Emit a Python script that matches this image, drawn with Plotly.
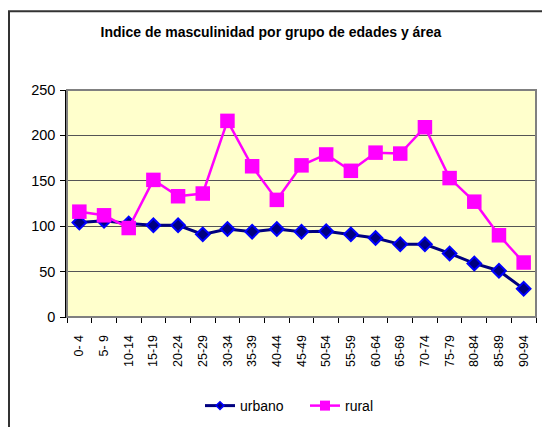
import plotly.graph_objects as go

categories = ["0- 4", "5- 9", "10-14", "15-19", "20-24", "25-29", "30-34", "35-39",
              "40-44", "45-49", "50-54", "55-59", "60-64", "65-69", "70-74", "75-79",
              "80-84", "85-89", "90-94"]
urbano = [104, 106, 103, 101, 101, 91, 97, 94, 97, 94, 94.5, 91, 87, 80, 80, 70, 59, 51, 31]
rural = [116, 112, 98, 151, 133, 136, 216, 166, 129, 167, 179, 161, 181, 180, 209, 153, 127, 90, 60]
y_ticks = [0, 50, 100, 150, 200, 250]

FONT = "Liberation Sans, Arial, sans-serif"
NAVY, BLUE, MAGENTA = "#000080", "#0000FF", "#FF00FF"

fig = go.Figure()
fig.add_trace(go.Scatter(
    x=categories, y=urbano, name="urbano", mode="lines+markers", showlegend=False,
    line=dict(color=NAVY, width=3),
    marker=dict(symbol="diamond", size=10.5, color=NAVY, line=dict(color=BLUE, width=2)),
))
fig.add_trace(go.Scatter(
    x=categories, y=rural, name="rural", mode="lines+markers", showlegend=False,
    line=dict(color=MAGENTA, width=2.5),
    marker=dict(symbol="square", size=14.5, color=MAGENTA, line=dict(width=0)),
))
# legend entries (smaller symbols as in the reference legend)
fig.add_trace(go.Scatter(
    x=[None], y=[None], name="urbano", mode="lines+markers", legend="legend",
    line=dict(color=NAVY, width=3),
    marker=dict(symbol="diamond", size=6, color=NAVY, line=dict(color=BLUE, width=1.5)),
))
fig.add_trace(go.Scatter(
    x=[None], y=[None], name="rural", mode="lines+markers", legend="legend2",
    line=dict(color=MAGENTA, width=2.5),
    marker=dict(symbol="square", size=10, color=MAGENTA, line=dict(width=0)),
))

leg_common = dict(orientation="h", yanchor="middle", y=-0.386, xanchor="left",
                  font=dict(family=FONT, size=14), bgcolor="rgba(0,0,0,0)")

fig.update_layout(
    width=542, height=427,
    margin=dict(l=67, r=6, t=90, b=109),
    paper_bgcolor="white", plot_bgcolor="#FFFFCC",
    font=dict(family=FONT, size=12, color="black"),
    title=dict(text="<b>Indice de masculinidad por grupo de edades y área</b>",
               x=0.5, xanchor="center", xref="container", y=1 - 32 / 427, yanchor="middle",
               font=dict(family=FONT, size=14, color="black")),
    showlegend=True,
    legend=dict(x=(200 - 67) / 469, **leg_common),
    legend2=dict(x=(305 - 67) / 469, **leg_common),
    xaxis=dict(type="category", tickangle=-90, ticks="outside", ticklen=5, tickcolor="black",
               tickson="boundaries", showgrid=False, showline=True, linecolor="black", linewidth=1,
               tickfont=dict(family=FONT, size=12.5), range=[-0.5, 18.5],
               ticklabelstandoff=12),
    yaxis=dict(range=[0, 250], tickvals=y_ticks, ticks="outside", ticklen=5, tickcolor="black",
               showgrid=True, gridcolor="#555555", gridwidth=1, showline=True,
               linecolor="black", linewidth=1.5, zeroline=False,
               tickfont=dict(family=FONT, size=14.5), ticklabelstandoff=2),
    shapes=[
        dict(type="rect", xref="paper", yref="paper", x0=0, x1=1, y0=0, y1=1,
             line=dict(color="#808080", width=2), layer="above"),
        dict(type="rect", xref="paper", yref="paper",
             x0=(9 - 67) / 469, x1=(545 - 67) / 469,
             y0=(318 - 440) / 228, y1=(318 - 11) / 228,
             line=dict(color="#333333", width=2), layer="above"),
    ],
)

fig.write_html("out.html", config={"displayModeBar": False},
               post_script="document.body.style.margin='0';")
